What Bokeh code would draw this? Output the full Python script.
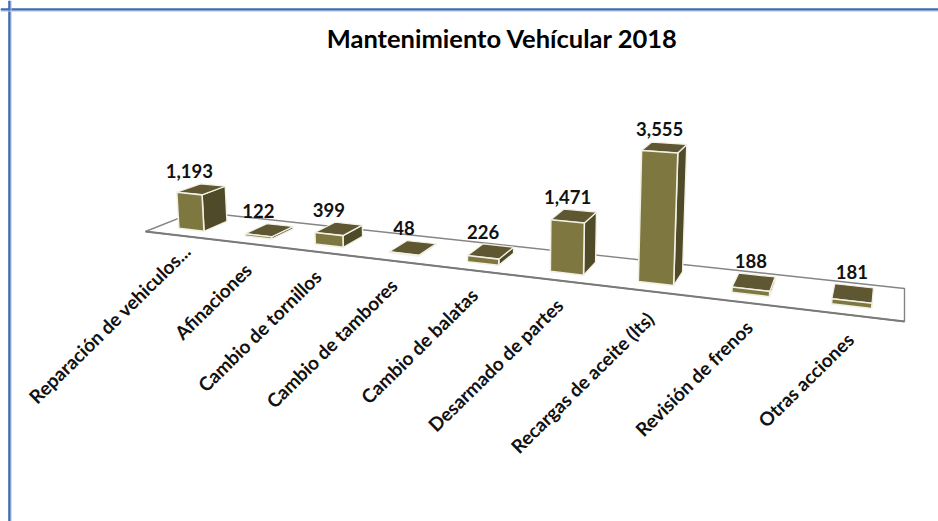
import numpy as np
from bokeh.core.properties import value
from bokeh.embed import file_html
from bokeh.models import ColumnDataSource, Range1d, Span
from bokeh.plotting import figure
from bokeh.resources import INLINE

title_text = "Mantenimiento Vehícular 2018"
categories = ["Reparación de vehiculos...", "Afinaciones", "Cambio de tornillos",
              "Cambio de tambores", "Cambio de balatas", "Desarmado de partes",
              "Recargas de aceite (lts)", "Revisión de frenos", "Otras acciones"]
values = [1193, 122, 399, 48, 226, 1471, 3555, 188, 181]

# Perspective of the tilted floor (front-left, front-right, back-right, back-left on the page)
FLOOR = [(145, 231), (904, 321), (904, 288), (195, 211.2)]
BAR_U = 0.385
V0, V1 = 0.26, 0.74
K, C0 = 0.0319, 1.6
XC, D = 500.0, 5500.0

# Small label shifts (x, y) in pixels for the labels that sit off the regular pattern
LABEL_NUDGE = {0: (9, -9), 1: (2, 2), 6: (0, 3), 7: (2, 0)}

(x0, y0), (x1, y1), (x2, y2), (x3, y3) = FLOOR
_den = (x1 - x2) * (y3 - y2) - (x3 - x2) * (y1 - y2)
_sx, _sy = x0 - x1 + x2 - x3, y0 - y1 + y2 - y3
G = (_sx * (y3 - y2) - (x3 - x2) * _sy) / _den
H = ((x1 - x2) * _sy - _sx * (y1 - y2)) / _den


def project(slot, depth, val=None):
    s = slot / len(categories)
    w = 1 + G * s + H * depth
    x = ((x1 - x0 + G * x1) * s + (x3 - x0 + H * x3) * depth + x0) / w
    y = ((y1 - y0 + G * y1) * s + (y3 - y0 + H * y3) * depth + y0) / w
    if val is None:
        return x, y
    h = max(K * val - C0, 0.8) / w
    return x + (x - XC) / D * h, y - h


fronts_x, fronts_y, sides_x, sides_y, tops_x, tops_y = [], [], [], [], [], []
lab_x, lab_y, cat_x, cat_y = [], [], [], []
for i, val in enumerate(values):
    a, b = i + 0.5 - BAR_U / 2, i + 0.5 + BAR_U / 2
    fl, fr = project(a, V0), project(b, V0)
    br = project(b, V1)
    tfl, tfr = project(a, V0, val), project(b, V0, val)
    tbl, tbr = project(a, V1, val), project(b, V1, val)
    fronts_x.append([fl[0], fr[0], tfr[0], tfl[0]])
    fronts_y.append([fl[1], fr[1], tfr[1], tfl[1]])
    sides_x.append([fr[0], br[0], tbr[0], tfr[0]])
    sides_y.append([fr[1], br[1], tbr[1], tfr[1]])
    tops_x.append([tfl[0], tfr[0], tbr[0], tbl[0]])
    tops_y.append([tfl[1], tfr[1], tbr[1], tbl[1]])
    lab_x.append((tfl[0] + tfr[0]) / 2)
    lab_y.append((tbl[1] + tbr[1]) / 2)
    edge = project(i + 0.5, 0)
    nudge = LABEL_NUDGE.get(i, (0, 0))
    cat_x.append(edge[0] + nudge[0])
    cat_y.append(edge[1] + nudge[1])

p = figure(width=938, height=521, output_backend="svg", toolbar_location=None,
           x_range=Range1d(0, 938), y_range=Range1d(521, 0),
           min_border=0, outline_line_color=None, background_fill_color="#FFFFFF",
           border_fill_color="#FFFFFF")
p.axis.visible = False
p.grid.visible = False

# Slide-style frame: top and left only
for loc, dim in ((9.0, "width"), (9.0, "height")):
    p.add_layout(Span(location=loc, dimension=dim, line_color="#3F6DB3", line_width=2.6))
for loc, dim in ((10.6, "width"), (10.6, "height")):
    p.add_layout(Span(location=loc, dimension=dim, line_color="#B4C8E6", line_width=1))

# Floor
corners = [project(0, 0), project(len(categories), 0),
           project(len(categories), 1), project(0, 1)]
p.patch([c[0] for c in corners], [c[1] for c in corners], fill_color="#FFFFFF",
        line_color="#858585", line_width=1.4)
p.line([corners[0][0], corners[1][0]], [corners[0][1], corners[1][1]],
       line_color="#7A7A7A", line_width=2)

edge_color = "#F2F1E6"
p.patches(sides_x, sides_y, fill_color="#4F4A28", line_color=edge_color, line_width=1.4)
p.patches(tops_x, tops_y, fill_color="#5E5732", line_color=edge_color, line_width=1.2)
p.patches(fronts_x, fronts_y, fill_color="#7F7740", line_color=edge_color, line_width=1.6)

src = ColumnDataSource(dict(x=lab_x, y=lab_y, t=[f"{v:,}" for v in values]))
p.text("x", "y", text="t", source=src, y_offset=-14, text_align="center",
       text_baseline="middle", text_font=value("Lato"), text_font_style="bold",
       text_font_size="18.5px", text_color="#111111")

src2 = ColumnDataSource(dict(x=cat_x, y=cat_y, t=categories))
p.text("x", "y", text="t", source=src2, x_offset=0, y_offset=21, angle=44.5,
       angle_units="deg", text_align="right", text_baseline="middle",
       text_font=value("Lato"), text_font_style="bold", text_font_size="19px",
       text_color="#111111")

p.text([502], [37.5], text=[title_text], text_align="center", text_baseline="middle",
       text_font=value("Lato"), text_font_style="bold", text_font_size="25.5px",
       text_color="#000000")

open("out.html", "w").write(file_html(p, INLINE))
